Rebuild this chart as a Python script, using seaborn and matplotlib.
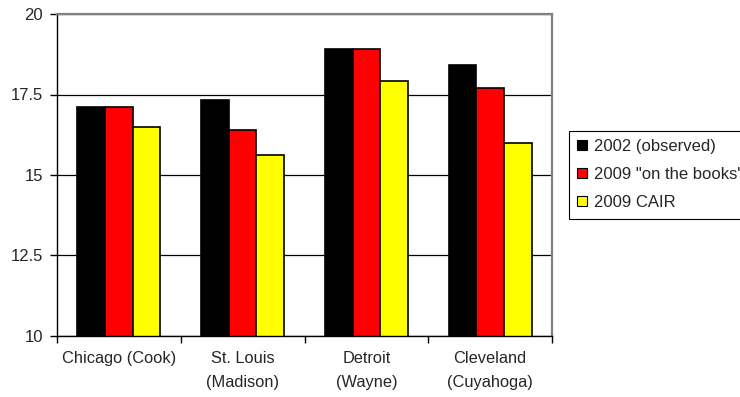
import matplotlib
matplotlib.use("Agg")
import matplotlib.pyplot as plt
import seaborn as sns
import pandas as pd
from matplotlib.ticker import FixedLocator

# Counties and modeled annual PM2.5 design values
counties = ["Chicago (Cook)", "St. Louis\n(Madison)", "Detroit\n(Wayne)", "Cleveland\n(Cuyahoga)"]
series = ["2002 (observed)", "2009 \"on the books\"", "2009 CAIR"]
observed_2002 = [17.12, 17.33, 18.90, 18.41]
otb_2009 = [17.12, 16.39, 18.90, 17.70]
cair_2009 = [16.48, 15.61, 17.91, 15.98]
colors = ["#000000", "#ff0000", "#ffff00"]
yticks = [10, 12.5, 15, 17.5, 20]
ytick_labels = ["10", "12.5", "15", "17.5", "20"]

rows = []
for name, vals in zip(series, [observed_2002, otb_2009, cair_2009]):
    for c, v in zip(counties, vals):
        rows.append({"county": c, "series": name, "value": v})
df = pd.DataFrame(rows)

sns.set_style("white")
plt.rcParams["font.family"] = ["Liberation Sans", "DejaVu Sans"]

fig = plt.figure(figsize=(7.40, 3.97), dpi=100)
ax = fig.add_axes([57 / 740, 1 - 336 / 397, (552 - 57) / 740, (336 - 14) / 397])

sns.barplot(data=df, x="county", y="value", hue="series", order=counties,
            hue_order=series, palette=colors, width=0.67, edgecolor="black",
            linewidth=1.2, saturation=1, ax=ax, legend=True)

ax.set_ylim(10, 20)
ax.set_xlim(-0.5, len(counties) - 0.5)
ax.set_yticks(yticks)
ax.set_yticklabels(ytick_labels)
ax.set_axisbelow(True)
ax.yaxis.grid(True, color="black", linewidth=0.9)
ax.set_xlabel("")
ax.set_ylabel("")

# category separators on the x axis
ax.xaxis.set_minor_locator(FixedLocator([i - 0.5 for i in range(len(counties) + 1)]))
ax.tick_params(axis="x", which="major", length=0, pad=11, labelsize=11.8)
ax.tick_params(axis="x", which="minor", length=5, width=1, color="black", direction="out", bottom=True)
ax.tick_params(axis="y", which="major", length=5, width=1, color="black", direction="out", left=True, pad=5, labelsize=12)
for lbl in ax.get_xticklabels():
    lbl.set_linespacing(1.75)

for side in ["left", "bottom"]:
    ax.spines[side].set_color("black")
    ax.spines[side].set_linewidth(1.0)
for side in ["top", "right"]:
    ax.spines[side].set_color("#808080")
    ax.spines[side].set_linewidth(1.6)

# legend box runs past the right edge of the figure
handles, labels = ax.get_legend_handles_labels()
ax.legend(handles, labels, loc="upper left", bbox_to_anchor=(569 / 740, 1 - 131 / 397),
          bbox_transform=fig.transFigure, frameon=True, fancybox=False, fontsize=12,
          edgecolor="black", framealpha=1, borderpad=0.5, labelspacing=0.78,
          handlelength=0.55, handleheight=0.55, handletextpad=0.42, borderaxespad=0)
leg = ax.get_legend()
leg.get_frame().set_linewidth(0.8)
for h in leg.legend_handles:
    h.set_edgecolor("black")
    h.set_linewidth(0.8)

fig.savefig("out.png", dpi=100)
